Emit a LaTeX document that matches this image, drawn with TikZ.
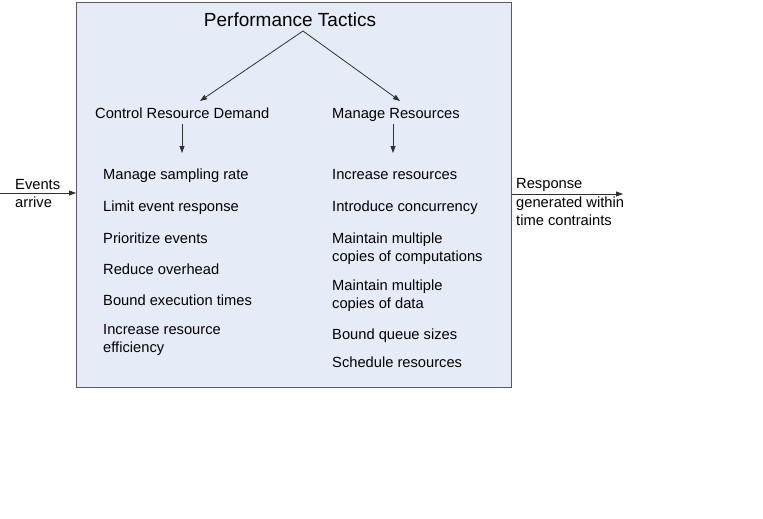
\documentclass[tikz,border=0pt]{standalone}
\usepackage{fontspec}
\setmainfont{Liberation Sans}
\usetikzlibrary{arrows.meta}
\definecolor{panelfill}{HTML}{E6ECF7}
\definecolor{panelline}{HTML}{5A5A5A}
\definecolor{arrowline}{HTML}{303030}
\begin{document}
\begin{tikzpicture}[x=1pt,y=-1pt,
  item/.style={anchor=base west,inner sep=0pt,font=\fontsize{14.7}{18.6}\selectfont,align=left},
  heading/.style={anchor=base west,inner sep=0pt,font=\fontsize{14.7}{18.6}\selectfont},
  titletext/.style={anchor=base,inner sep=0pt,font=\fontsize{19}{22}\selectfont},
  flow/.style={draw=arrowline,line width=0.8pt,-{Triangle[length=7pt,width=5pt]}}]
\useasboundingbox (0,0) rectangle (763,519);
% panel
\node[draw=panelline,fill=panelfill,line width=1.3pt,minimum width=435pt,minimum height=385pt,inner sep=0pt,anchor=north west] (frame) at (76,2) {};
% title and categories
\node[titletext] (title) at (290,27) {Performance Tactics};
\node[heading] (crd) at (95,118) {Control Resource Demand};
\node[heading] (mr) at (332,118) {Manage Resources};
\coordinate (apex) at (303,31);
\coordinate (crdtop) at (200,101);
\coordinate (mrtop) at (400,101);
\draw[flow] (apex) -- (crdtop);
\draw[flow] (apex) -- (mrtop);
\coordinate (crdfrom) at (182,124);
\coordinate (crdto) at (182,153);
\coordinate (mrfrom) at (393,124);
\coordinate (mrto) at (393,153);
\draw[flow] (crdfrom) -- (crdto);
\draw[flow] (mrfrom) -- (mrto);
% demand tactics (multi-line items are placed by their last baseline)
\node[item] (l1) at (103,179) {Manage sampling rate};
\node[item] (l2) at (103,211) {Limit event response};
\node[item] (l3) at (103,243) {Prioritize events};
\node[item] (l4) at (103,274) {Reduce overhead};
\node[item] (l5) at (103,305) {Bound execution times};
\node[item] (l6) at (103,352.6) {Increase resource\\efficiency};
% resource tactics
\node[item] (r1) at (332,179) {Increase resources};
\node[item] (r2) at (332,211) {Introduce concurrency};
\node[item] (r3) at (332,261.6) {Maintain multiple\\copies of computations};
\node[item] (r4) at (332,308.6) {Maintain multiple\\copies of data};
\node[item] (r5) at (332,339) {Bound queue sizes};
\node[item] (r6) at (332,367) {Schedule resources};
% stimulus and response
\coordinate (evstart) at (0,193);
\draw[flow] (evstart) -- (evstart -| frame.west);
\node[item] (ev) at (15,189) {Events};
\node[item] (arr) at (15,207) {arrive};
\coordinate (resend) at (623,194);
\draw[flow] (resend -| frame.east) -- (resend);
\node[item] (resp) at (516,225.6) {Response\\generated within\\time contraints};
\end{tikzpicture}
\end{document}
